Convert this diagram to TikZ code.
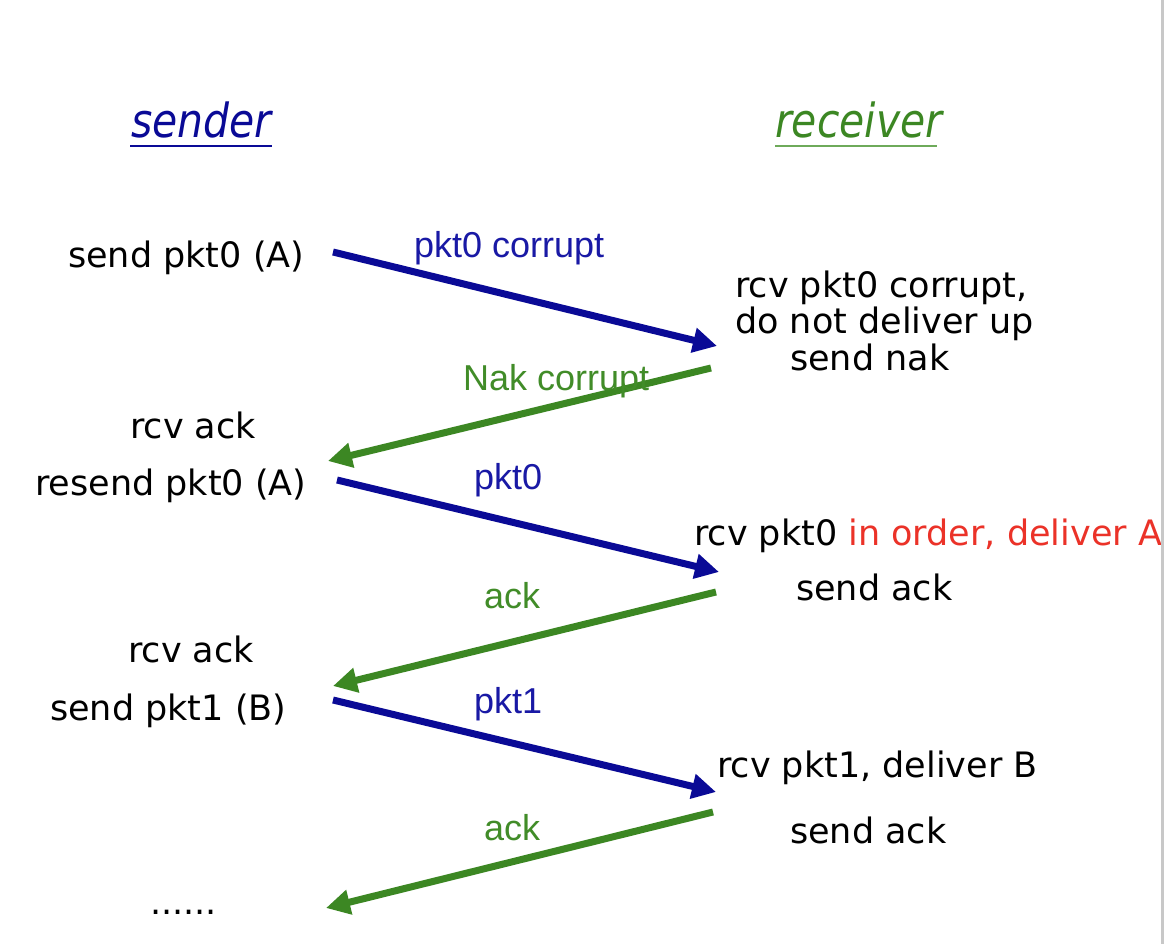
\documentclass[tikz,border=0pt]{standalone}
\usepackage{fontspec}
\setmainfont{DejaVu Sans}
\newfontfamily\labfont{Liberation Sans}
\usetikzlibrary{arrows.meta}
\definecolor{sblue}{RGB}{10,10,150}
\definecolor{lblue}{RGB}{25,25,165}
\definecolor{rgreen}{RGB}{60,135,35}
\definecolor{lgreen}{RGB}{65,140,40}
\definecolor{ulgreen}{RGB}{110,170,90}
\definecolor{dred}{RGB}{235,50,40}
\definecolor{edgegray}{RGB}{200,200,200}
\tikzset{
  txt/.style={anchor=base west,inner sep=0pt,font=\fontsize{35}{40}\selectfont},
  lab/.style={anchor=base west,inner sep=0pt,font=\labfont\fontsize{36}{40}\selectfont},
  hdr/.style={anchor=base west,inner sep=0pt,font=\itshape\fontsize{47}{50}\selectfont,xscale=0.87},
  msg/.style={line width=7pt,-{Triangle[length=24pt,width=24pt]}},
  fwd/.style={msg,draw=sblue,color=sblue},
  bck/.style={msg,draw=rgreen,color=rgreen}
}
\begin{document}
\begin{tikzpicture}[x=1pt,y=-1pt]
\useasboundingbox (0,0) rectangle (1164,944);
\fill[white] (0,0) rectangle (1164,944);
\begin{scope}
\clip (0,0) rectangle (1160,944);
% headers
\node[hdr,text=sblue] (hs) at (131,138) {sender};
\draw[sblue,line width=2.5pt] (130,146) -- (272,146);
\node[hdr,text=rgreen] (hr) at (775,138) {receiver};
\draw[ulgreen,line width=2.5pt] (775,146) -- (937,146);
% sender side
\node[txt] (t1) at (68,267) {send pkt0 (A)};
\node[txt] (t2) at (130,438) {rcv ack};
\node[txt] (t3) at (35,495) {resend pkt0 (A)};
\node[txt] (t4) at (128,662) {rcv ack};
\node[txt] (t5) at (50,720) {send pkt1 (B)};
\node[txt] (t6) at (150,914) {......};
% receiver side
\node[txt] (r1) at (735,297) {rcv pkt0 corrupt,};
\node[txt] (r2) at (735,333) {do not deliver up};
\node[txt] (r3) at (790,370) {send nak};
\node[txt] (r4) at (694,545) {rcv pkt0 \textcolor{dred}{in order, deliver A}};
\node[txt] (r5) at (796,600) {send ack};
\node[txt] (r6) at (717,777) {rcv pkt1, deliver B};
\node[txt] (r7) at (790,843) {send ack};
% message labels
\node[lab,text=lblue] (l1) at (414,257) {pkt0 corrupt};
\node[lab,text=lblue] (l3) at (474,489) {pkt0};
\node[lab,text=lgreen] (l4) at (484,608) {ack};
\node[lab,text=lblue] (l5) at (474,713) {pkt1};
\node[lab,text=lgreen] (l6) at (484,840) {ack};
% arrow endpoints
\coordinate (a1) at (333,252); \coordinate (b1) at (717,346);
\coordinate (a2) at (711,368); \coordinate (b2) at (328,461);
\coordinate (a3) at (337,480); \coordinate (b3) at (719,572);
\coordinate (a4) at (716,592); \coordinate (b4) at (333,686);
\coordinate (a5) at (333,700); \coordinate (b5) at (716,792);
\coordinate (a6) at (713,812); \coordinate (b6) at (326,908);
\draw[fwd] (a1) -- (b1);
\draw[bck] (a2) -- (b2);
\draw[fwd] (a3) -- (b3);
\draw[bck] (a4) -- (b4);
\draw[fwd] (a5) -- (b5);
\draw[bck] (a6) -- (b6);
\node[lab,text=lgreen] (l2) at (463,390) {Nak corrupt};
\end{scope}
\fill[edgegray] (1160.5,0) rectangle (1164,944);
\end{tikzpicture}
\end{document}
